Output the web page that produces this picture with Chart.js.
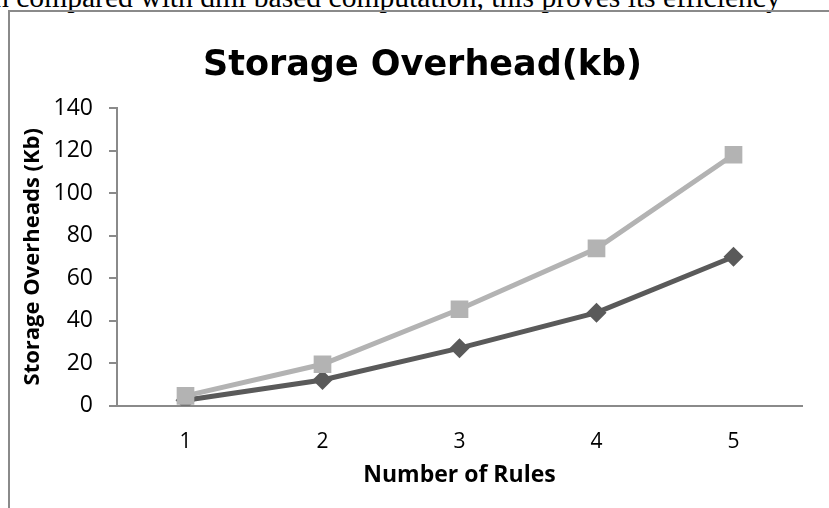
<!DOCTYPE html>
<html>
<head>
<meta charset="utf-8">
<script src="https://cdn.jsdelivr.net/npm/chart.js@4/dist/chart.umd.min.js"></script>
<style>
  html, body { margin: 0; padding: 0; background: #fff; width: 829px; height: 508px; overflow: hidden; }
  #doc { position: absolute; left: -6px; top: -17px; font-family: "Liberation Serif", "Times New Roman", serif; font-size: 29.6px; line-height: 29px; white-space: nowrap; color: #000; }
  #frame { position: absolute; left: 8px; top: 10px; width: 840px; height: 520px; border-left: 2px solid #8a8a8a; border-top: 2px solid #8a8a8a; }
  #c { position: absolute; left: 0; top: 0; }
</style>
</head>
<body>
<div id="doc">h compared with dml based computation, this proves its efficiency</div>
<div id="frame"></div>
<canvas id="c" width="829" height="508"></canvas>
<script>
const categories = ["1", "2", "3", "4", "5"];
const seriesDark = [2.5, 12, 27, 43.7, 70];
const seriesLight = [4.5, 19.4, 45.3, 73.9, 118];
const yTicks = [0, 20, 40, 60, 80, 100, 120, 140];

const FONT = "'Open Sans', Calibri, sans-serif";
const TITLE_FONT = "'DejaVu Sans', 'Open Sans', sans-serif";
const AXIS = '#8a8a8a';
const PAD_LEFT = 43;

new Chart(document.getElementById('c'), {
  type: 'line',
  data: {
    labels: categories,
    datasets: [
      {
        label: 'A',
        data: seriesDark,
        borderColor: '#5a5a5a',
        backgroundColor: '#5a5a5a',
        borderWidth: 5,
        pointStyle: 'rectRot',
        pointRadius: 10,
        pointBorderWidth: 0,
        tension: 0,
        order: 2
      },
      {
        label: 'B',
        data: seriesLight,
        borderColor: '#b3b3b3',
        backgroundColor: '#b3b3b3',
        borderWidth: 5,
        pointStyle: 'rect',
        pointRadius: 12.5,
        pointBorderWidth: 0,
        tension: 0,
        order: 1
      }
    ]
  },
  options: {
    responsive: false,
    animation: false,
    events: [],
    layout: { padding: { left: PAD_LEFT, right: 27, top: 0, bottom: 0 } },
    plugins: {
      legend: { display: false },
      tooltip: { enabled: false },
      title: {
        display: true,
        text: 'Storage Overhead(kb)',
        color: '#000',
        font: { family: TITLE_FONT, size: 35, weight: 'bold' },
        padding: { top: 45, bottom: 21 }
      }
    },
    scales: {
      x: {
        type: 'category',
        offset: true,
        afterFit: (s) => { s.height = 102.5; },
        grid: { display: false, drawTicks: false },
        border: { display: true, color: AXIS, width: 2 },
        ticks: { color: '#000', font: { family: FONT, size: 21 }, padding: 24 },
        title: {
          display: true,
          text: 'Number of Rules',
          color: '#000',
          font: { family: FONT, size: 23, weight: 'bold' },
          padding: { top: 0, bottom: 19 }
        }
      },
      y: {
        min: 0,
        max: 140,
        afterFit: (s) => { s.width = 117 - PAD_LEFT; },
        afterBuildTicks: (s) => { s.ticks = yTicks.map(v => ({ value: v })); },
        grid: { display: true, drawOnChartArea: false, drawTicks: true, tickLength: 8, color: AXIS, lineWidth: 2 },
        border: { display: true, color: AXIS, width: 2 },
        ticks: { color: '#000', font: { family: FONT, size: 23 }, padding: 16 },
        title: {
          display: true,
          text: 'Storage Overheads (Kb)',
          color: '#000',
          font: { family: FONT, size: 22, weight: 'bold' },
          padding: { top: 20 - PAD_LEFT, bottom: 0 }
        }
      }
    }
  }
});
</script>
</body>
</html>
